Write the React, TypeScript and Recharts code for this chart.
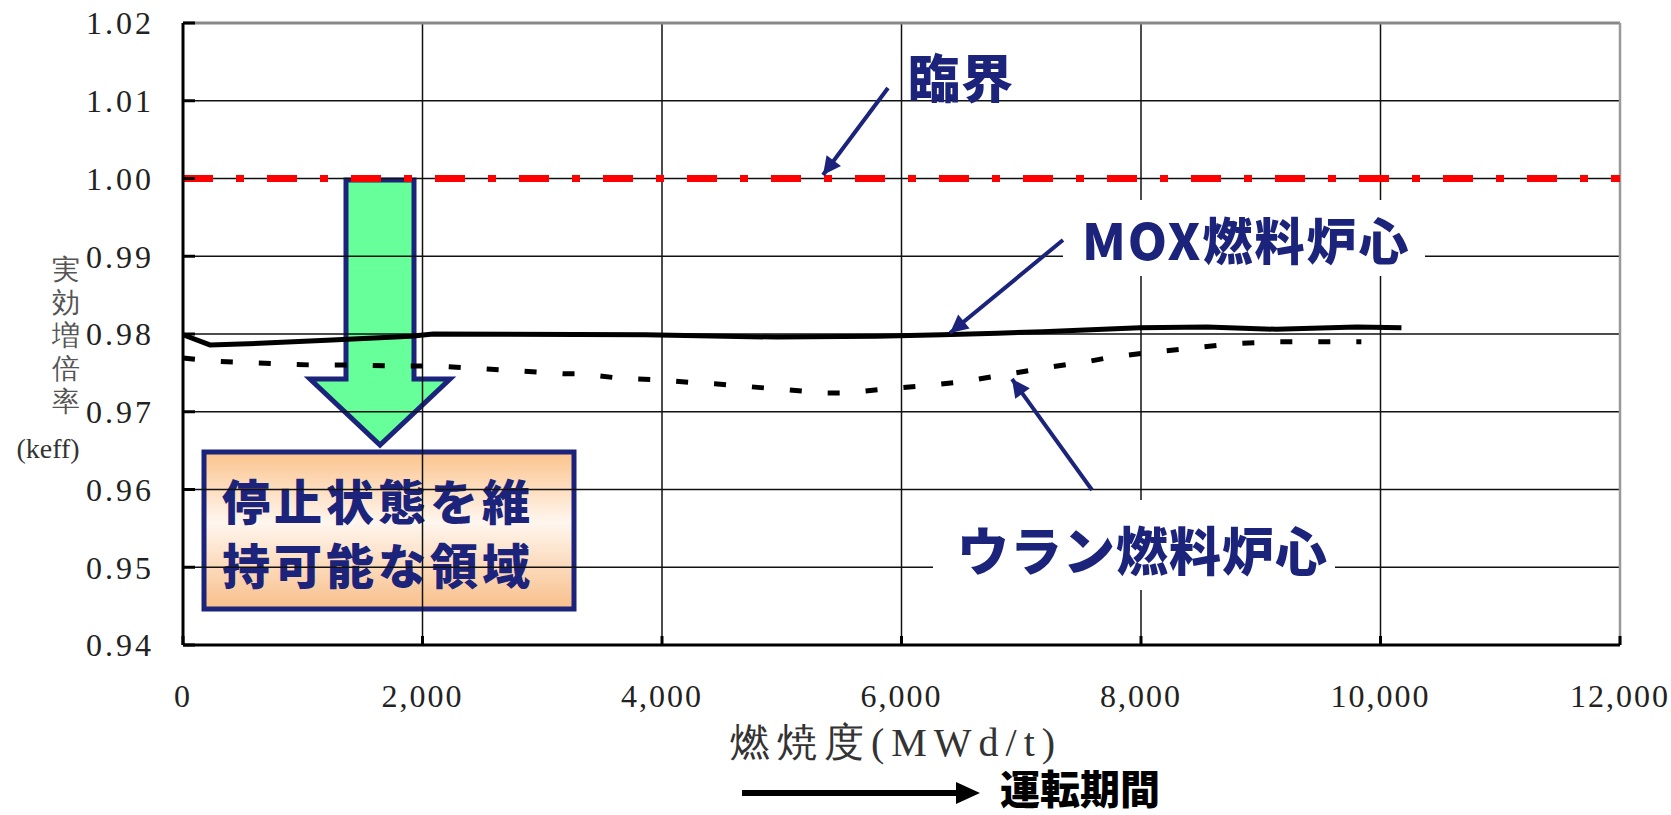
import { CartesianGrid, Line, LineChart, ReferenceLine, XAxis, YAxis } from "recharts";

// burnup (MWd/t) and keff
const moxBurnup = [0, 225, 640, 1200, 1900, 2090, 3860, 4960, 5790, 6340, 6800, 7180, 7530, 7990, 8550, 9130, 9800, 10175];
const moxKeff = [0.9799, 0.9786, 0.9788, 0.9792, 0.9797, 0.98, 0.9799, 0.9796, 0.9797, 0.9799, 0.9801, 0.9803, 0.9805, 0.9808, 0.9809, 0.9806, 0.9809, 0.9808];

const uBurnup = [0, 250, 560, 880, 1120, 1440, 1750, 2080, 2210, 2540, 2850, 3170, 3330, 3650, 3960, 4290, 4440, 4750, 5060, 5380, 5540, 5840, 6170, 6480, 6640, 6950, 7260, 7570, 7740, 8050, 8370, 8680, 8840, 9160, 9480, 9840];
const uKeff = [0.9769, 0.9765, 0.9763, 0.9761, 0.976, 0.976, 0.9759, 0.9759, 0.9758, 0.9755, 0.9752, 0.9749, 0.9749, 0.9743, 0.9741, 0.9737, 0.9736, 0.9732, 0.9728, 0.9724, 0.9724, 0.9729, 0.9733, 0.9738, 0.9742, 0.975, 0.9758, 0.9765, 0.977, 0.9776, 0.9781, 0.9786, 0.9788, 0.979, 0.979, 0.979];

const xTicks = [0, 2000, 4000, 6000, 8000, 10000, 12000];
const yTicks = [0.94, 0.95, 0.96, 0.97, 0.98, 0.99, 1.0, 1.01, 1.02];
const critical = 1.0;

const yLabelChars = ["実", "効", "増", "倍", "率"];

const moxData = moxBurnup.map((x, i) => ({ x, k: moxKeff[i] }));
const uData = uBurnup.map((x, i) => ({ x, k: uKeff[i] }));

const NAVY = "#1b237a";
const serif = "'Liberation Serif', 'DejaVu Serif', serif";
const gothic = "'Noto Sans CJK JP', 'Noto Sans', sans-serif";

export default function App() {
  return (
    <div style={{ position: "absolute", left: 0, top: 0, width: 1671, height: 815, background: "#fff" }}>
      {/* shutdown-margin arrow and box, under the grid */}
      <svg width={1671} height={815} style={{ position: "absolute", left: 0, top: 0 }}>
        <defs>
          <linearGradient id="peach" x1="0" y1="0" x2="0" y2="1">
            <stop offset="0%" stopColor="#fbc38c" />
            <stop offset="45%" stopColor="#fff6ee" />
            <stop offset="100%" stopColor="#f8bf8a" />
          </linearGradient>
        </defs>
        <polygon
          points="346,180 414,180 414,379 450,379 380,445 310,379 346,379"
          fill="#66ff99"
          stroke={NAVY}
          strokeWidth={5}
        />
        <rect x={204} y={452} width={370} height={157} fill="url(#peach)" stroke={NAVY} strokeWidth={5} />
        <text x={222} y={499} fontSize={48} fontWeight={900} fill={NAVY} fontFamily={gothic} letterSpacing={4} dominantBaseline="central">
          停止状態を維
        </text>
        <text x={222} y={563} fontSize={48} fontWeight={900} fill={NAVY} fontFamily={gothic} letterSpacing={4} dominantBaseline="central">
          持可能な領域
        </text>
      </svg>

      <div style={{ position: "absolute", left: 0, top: 0 }}>
        <LineChart width={1671} height={815} margin={{ top: 23, right: 51, bottom: 0, left: 0 }}>
          <CartesianGrid stroke="#111" strokeWidth={1.5} />
          <XAxis
            type="number"
            dataKey="x"
            domain={[0, 12000]}
            ticks={xTicks}
            height={170}
            tickFormatter={(v: number) => v.toLocaleString("en-US")}
            tick={{ fontSize: 32, fill: "#222", fontFamily: serif, letterSpacing: 2 }}
            tickSize={-9}
            tickMargin={48}
            axisLine={{ stroke: "#000", strokeWidth: 3 }}
            tickLine={{ stroke: "#000", strokeWidth: 3 }}
            interval={0}
          />
          <YAxis
            type="number"
            dataKey="k"
            domain={[0.94, 1.02]}
            ticks={yTicks}
            width={183}
            tickFormatter={(v: number) => v.toFixed(2)}
            tick={{ fontSize: 32, fill: "#222", fontFamily: serif, letterSpacing: 3 }}
            tickSize={-12}
            tickMargin={41}
            axisLine={{ stroke: "#000", strokeWidth: 3 }}
            tickLine={{ stroke: "#000", strokeWidth: 3 }}
            interval={0}
            allowDataOverflow
          />
          <ReferenceLine y={1.02} stroke="#888" strokeWidth={3} />
          <ReferenceLine x={12000} stroke="#999" strokeWidth={2.5} />
          <ReferenceLine y={critical} stroke="#ff0000" strokeWidth={7} strokeDasharray="30 23 8 23" />
          <Line
            data={uData}
            dataKey="k"
            type="linear"
            stroke="#000"
            strokeWidth={5}
            strokeDasharray="12 26"
            dot={false}
            isAnimationActive={false}
          />
          <Line
            data={moxData}
            dataKey="k"
            type="linear"
            stroke="#000"
            strokeWidth={5}
            dot={false}
            isAnimationActive={false}
          />
        </LineChart>
      </div>

      {/* callouts and axis titles */}
      <svg width={1671} height={815} style={{ position: "absolute", left: 0, top: 0, pointerEvents: "none" }}>
        <defs>
          <marker id="head" viewBox="0 0 10 10" refX={10} refY={5} markerWidth={22} markerHeight={18} markerUnits="userSpaceOnUse" orient="auto">
            <path d="M0,0 L10,5 L0,10 z" fill={NAVY} />
          </marker>
        </defs>

        <text x={908} y={75} fontSize={52} fontWeight={900} fill={NAVY} fontFamily={gothic} letterSpacing={1} dominantBaseline="central">
          臨界
        </text>
        <line x1={888} y1={88} x2={823} y2={175} stroke={NAVY} strokeWidth={4} markerEnd="url(#head)" />

        <rect x={1063} y={200} width={362} height={76} fill="#fff" />
        <text x={1082} y={238} fontSize={50} fontWeight={900} fill={NAVY} fontFamily={gothic} letterSpacing={2} dominantBaseline="central">
          MOX燃料炉心
        </text>
        <line x1={1063} y1={240} x2={950} y2={333} stroke={NAVY} strokeWidth={4} markerEnd="url(#head)" />

        <rect x={933} y={500} width={402} height={90} fill="#fff" />
        <text x={957} y={548} fontSize={52} fontWeight={900} fill={NAVY} fontFamily={gothic} letterSpacing={1} dominantBaseline="central">
          ウラン燃料炉心
        </text>
        <line x1={1092} y1={490} x2={1012} y2={379} stroke={NAVY} strokeWidth={4} markerEnd="url(#head)" />

        {yLabelChars.map((c, i) => (
          <text key={c} x={66} y={269 + i * 33} fontSize={28} fill="#555" fontFamily={serif} textAnchor="middle" dominantBaseline="central">
            {c}
          </text>
        ))}
        <text x={48} y={448} fontSize={28} fill="#333" fontFamily={serif} textAnchor="middle" dominantBaseline="central">
          (keff)
        </text>

        <text x={896} y={742} fontSize={40} fill="#333" fontFamily={serif} textAnchor="middle" letterSpacing={7} dominantBaseline="central">
          燃焼度(MWd/t)
        </text>

        <line x1={742} y1={793} x2={960} y2={793} stroke="#000" strokeWidth={6} />
        <polygon points="956,782 980,793 956,804" fill="#000" />
        <text x={1000} y={787} fontSize={40} fontWeight={900} fill="#000" fontFamily={gothic} dominantBaseline="central">
          運転期間
        </text>
      </svg>
    </div>
  );
}
